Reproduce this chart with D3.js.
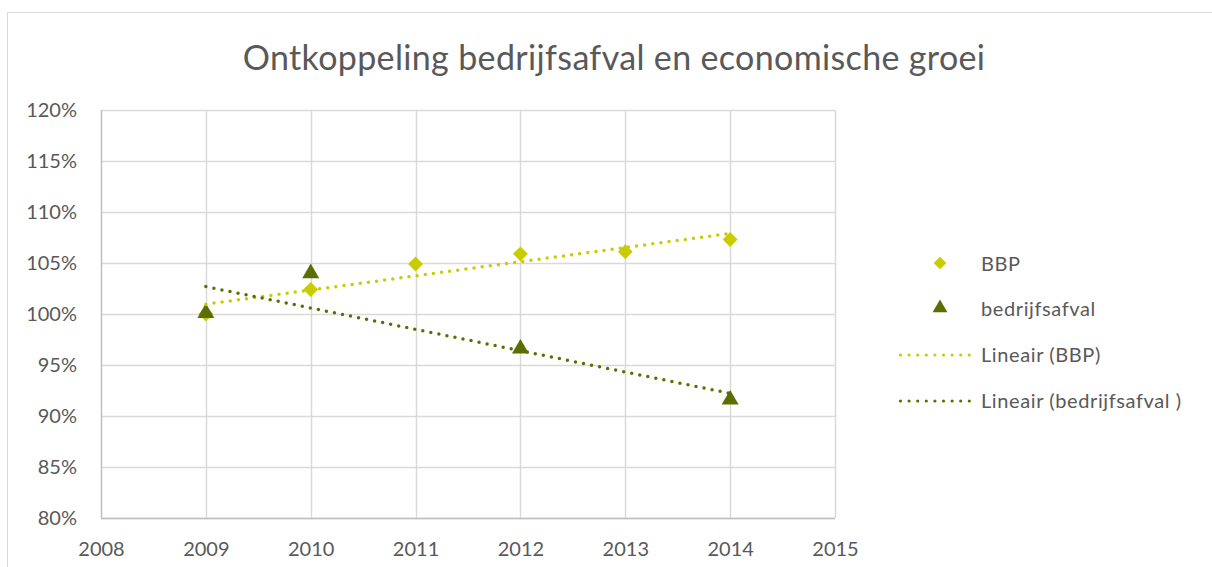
<!DOCTYPE html>
<html>
<head>
<meta charset="utf-8">
<script src="https://cdn.jsdelivr.net/npm/d3@7"></script>
<style>
  body { margin: 0; background: #fff; }
  svg { font-family: Lato, "Open Sans", sans-serif; }
</style>
</head>
<body>
<div id="chart"></div>
<script>
const width = 1212
const height = 567
const margin = {top: 110, left: 101, right: 377, bottom: 49}

// data
const years = [2009, 2010, 2011, 2012, 2013, 2014]
const bbp = [1.000, 1.024, 1.049, 1.059, 1.061, 1.073]
const afvalYears = [2009, 2010, 2012, 2014]
const afval = [1.000, 1.039, 0.965, 0.915]
const xTicks = [2008, 2009, 2010, 2011, 2012, 2013, 2014, 2015]
const yTicks = [0.80, 0.85, 0.90, 0.95, 1.00, 1.05, 1.10, 1.15, 1.20]
const title = "Ontkoppeling bedrijfsafval en economische groei"
const legendLabels = ["BBP", "bedrijfsafval", "Lineair (BBP)", "Lineair (bedrijfsafval )"]

const colBBP = "#c8cc00"
const colAfval = "#5b6f00"
const textCol = "#595959"
const gridCol = "#d9d9d9"

const svg = d3.select("div#chart").append("svg").attr("width", width).attr("height", height)

// chart frame
svg.append("rect")
    .attr("x", 7.5).attr("y", 12.5)
    .attr("width", width).attr("height", height)
    .attr("fill", "none").attr("stroke", gridCol)

svg.append("text")
    .attr("x", 614).attr("y", 70)
    .attr("text-anchor", "middle")
    .attr("fill", textCol)
    .attr("font-size", 34)
    .attr("letter-spacing", 0.35)
    .text(title)

const x = d3.scaleLinear().domain([2008, 2015]).range([margin.left, width - margin.right])
const y = d3.scaleLinear().domain([0.8, 1.2]).range([height - margin.bottom, margin.top])

const grid = svg.append("g").attr("class", "grid")
grid.selectAll("line.h").data(yTicks).join("line")
    .attr("class", "h")
    .attr("x1", x(2008)).attr("x2", x(2015))
    .attr("y1", d => Math.round(y(d)) + 0.5).attr("y2", d => Math.round(y(d)) + 0.5)
    .attr("stroke", gridCol).attr("stroke-width", 1.5)
grid.selectAll("line.v").data(xTicks).join("line")
    .attr("class", "v")
    .attr("x1", d => Math.round(x(d)) + 0.5).attr("x2", d => Math.round(x(d)) + 0.5)
    .attr("y1", y(1.2)).attr("y2", y(0.8))
    .attr("stroke", d => d == 2008 ? "#bfbfbf" : gridCol).attr("stroke-width", 1.5)
// bottom axis line
grid.append("line")
    .attr("x1", x(2008)).attr("x2", x(2015))
    .attr("y1", Math.round(y(0.8)) + 0.5).attr("y2", Math.round(y(0.8)) + 0.5)
    .attr("stroke", "#bfbfbf").attr("stroke-width", 1.5)

const xAxis = d3.axisBottom(x).tickValues(xTicks).tickFormat(d3.format("d")).tickSize(0).tickPadding(24)
const yAxis = d3.axisLeft(y).tickValues(yTicks).tickFormat(d3.format(".0%")).tickSize(0).tickPadding(24)

const xAxisGroup = svg.append("g").attr("transform", `translate(0, ${y(0.8)})`).call(xAxis)
const yAxisGroup = svg.append("g").attr("transform", `translate(${x(2008)}, 0)`).call(yAxis)
;[xAxisGroup, yAxisGroup].forEach(g => {
    g.select(".domain").remove()
    g.selectAll("text").attr("fill", textCol).attr("font-size", 20).attr("font-family", "Lato, sans-serif")
})

// least squares trend
function fit(xs, ys) {
    const mx = d3.mean(xs), my = d3.mean(ys)
    const sxy = d3.sum(xs, (v, i) => (v - mx) * (ys[i] - my))
    const sxx = d3.sum(xs, v => (v - mx) * (v - mx))
    const b = sxy / sxx
    return v => my + b * (v - mx)
}
const fBBP = fit(years, bbp)
const fAfval = fit(afvalYears, afval)

const line = d3.line().x(d => x(d[0])).y(d => y(d[1]))

function trend(f, color) {
    svg.append("path")
        .datum([[2009, f(2009)], [2014, f(2014)]])
        .attr("d", line)
        .attr("stroke", color)
        .attr("stroke-width", 3.5)
        .attr("stroke-linecap", "round")
        .attr("stroke-dasharray", "0 8.2")
        .attr("fill", "none")
}

const tri = d3.symbol().type(d3.symbolTriangle).size(125)

// markers
svg.append("g").selectAll("path").data(years.map((d, i) => [d, bbp[i]])).join("path")
    .attr("d", d3.symbol().type(d3.symbolSquare).size(110))
    .attr("transform", d => `translate(${x(d[0])}, ${y(d[1])}) rotate(45)`)
    .attr("fill", colBBP)
svg.append("g").selectAll("path").data(afvalYears.map((d, i) => [d, afval[i]])).join("path")
    .attr("d", tri)
    .attr("transform", d => `translate(${x(d[0])}, ${y(d[1]) - 1})`)
    .attr("fill", colAfval)

trend(fBBP, colBBP)
trend(fAfval, colAfval)

// legend
const legend = svg.append("g").attr("transform", "translate(899, 0)")
const legY = [264, 309, 355, 401]
legend.append("path")
    .attr("d", d3.symbol().type(d3.symbolSquare).size(80))
    .attr("transform", `translate(41, ${legY[0] - 1}) rotate(45)`)
    .attr("fill", colBBP)
legend.append("path")
    .attr("d", d3.symbol().type(d3.symbolTriangle).size(95))
    .attr("transform", `translate(41, ${legY[1] - 1})`)
    .attr("fill", colAfval)
;[[colBBP, legY[2]], [colAfval, legY[3]]].forEach(([c, yy]) => {
    legend.append("line")
        .attr("x1", 1.5).attr("x2", 72).attr("y1", yy).attr("y2", yy)
        .attr("stroke", c)
        .attr("stroke-width", 3.2).attr("stroke-linecap", "round").attr("stroke-dasharray", "0 8.6")
})
legend.selectAll("text").data(legendLabels).join("text")
    .attr("x", 82).attr("y", (d, i) => legY[i] + 7)
    .attr("fill", textCol).attr("font-size", 20)
    .attr("letter-spacing", 0.6)
    .text(d => d)
</script>
</body>
</html>
